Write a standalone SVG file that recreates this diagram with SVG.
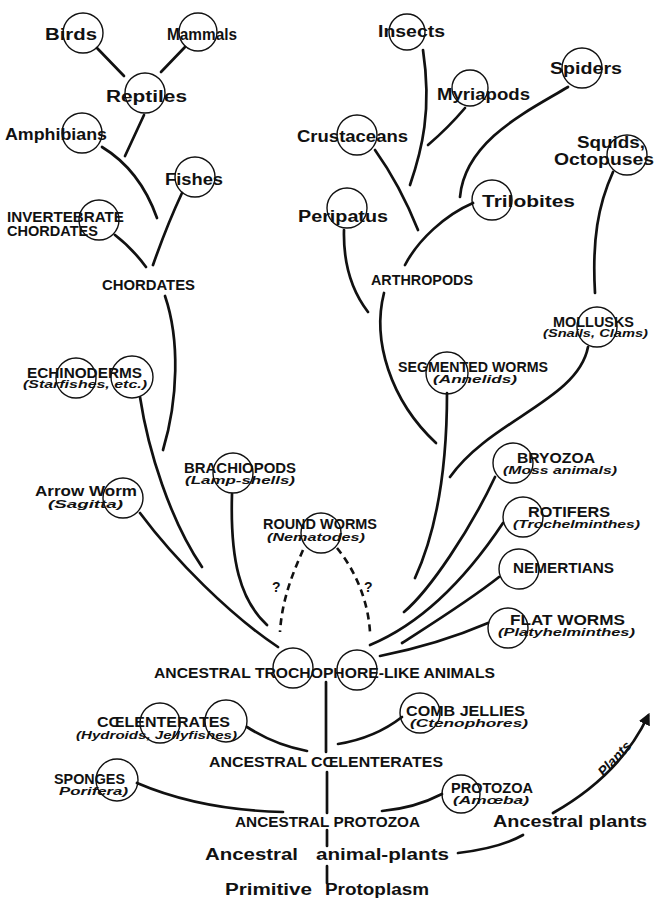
<svg xmlns="http://www.w3.org/2000/svg" width="659" height="899" viewBox="0 0 659 899">
<defs>
<style>
.c{fill:none;stroke:#111;stroke-width:1.4}
.l{fill:none;stroke:#111;stroke-width:2.7;stroke-linecap:round}
.d{fill:none;stroke:#111;stroke-width:2.6;stroke-dasharray:7 5}
text{font-family:"Liberation Sans",Arial,sans-serif;font-weight:bold;fill:#111}
.t16{font-size:16px}
.t15{font-size:15px}
.t14{font-size:14px}
.s{font-size:10.5px;font-style:italic}
</style>
<marker id="ah" viewBox="0 0 10 10" refX="7" refY="5" markerWidth="4.5" markerHeight="4.5" orient="auto" markerUnits="strokeWidth">
<path d="M0,0 L10,5 L0,10 z" fill="#111"/>
</marker>
</defs>
<rect width="659" height="899" fill="#fff"/>

<g id="connectors">
<path class="l" d="M97,48 L124,76"/>
<path class="l" d="M185,47 L161,72"/>
<path class="l" d="M144,115 L125,156"/>
<path class="l" d="M102,147 Q140,170 157,218"/>
<path class="l" d="M182,193 Q167,225 153,265"/>
<path class="l" d="M115,235 Q132,248 146,267"/>
<path class="l" d="M165,296 C180,340 178,400 163,450"/>
<path class="l" d="M140,397 C148,450 170,520 202,567"/>
<path class="l" d="M140,513 C175,560 230,615 278,647"/>
<path class="l" d="M232,494 C230,560 240,600 267,625"/>
<path class="d" d="M303,550 C292,575 282,600 280,632"/>
<path class="d" d="M337,548 C355,570 368,600 370,632"/>
<path class="l" d="M423,50 C432,110 422,150 410,185"/>
<path class="l" d="M465,108 Q448,128 428,145"/>
<path class="l" d="M568,87 C530,110 465,140 460,197"/>
<path class="l" d="M375,150 Q400,185 418,230"/>
<path class="l" d="M473,203 C445,215 418,240 405,265"/>
<path class="l" d="M344,230 C343,270 355,295 368,312"/>
<path class="l" d="M384,293 C372,340 390,400 436,443"/>
<path class="l" d="M613,172 C598,205 592,240 595,293"/>
<path class="l" d="M588,347 C578,400 490,420 450,477"/>
<path class="l" d="M447,393 C447,470 437,530 415,578"/>
<path class="l" d="M495,477 C470,530 430,590 404,612"/>
<path class="l" d="M503,523 C475,565 430,620 370,645"/>
<path class="l" d="M499,577 C470,600 430,625 402,643"/>
<path class="l" d="M488,623 C460,635 420,648 380,656"/>
<path class="l" d="M326,682 L326,752"/>
<path class="l" d="M247,727 Q275,745 307,751"/>
<path class="l" d="M402,717 Q375,738 338,744"/>
<path class="l" d="M327,772 L327,813"/>
<path class="l" d="M137,783 Q200,810 283,812"/>
<path class="l" d="M442,794 Q415,808 382,811"/>
<path class="l" d="M327,830 L327,846"/>
<path class="l" d="M327,866 L327,883"/>
<path class="l" d="M458,853 Q500,848 523,835"/>
<path class="l" d="M553,813 Q620,775 648,716" marker-end="url(#ah)"/>
</g>

<g id="birds"><circle class="c" cx="83" cy="33" r="20"/><text class="t16" x="45" y="40" textLength="52" lengthAdjust="spacingAndGlyphs">Birds</text></g>
<g id="mammals"><circle class="c" cx="198" cy="32" r="19"/><text class="t16" x="167" y="40" textLength="70" lengthAdjust="spacingAndGlyphs">Mammals</text></g>
<g id="reptiles"><circle class="c" cx="145" cy="93" r="20"/><text class="t16" x="106" y="102" textLength="81" lengthAdjust="spacingAndGlyphs">Reptiles</text></g>
<g id="amphibians"><circle class="c" cx="82" cy="133" r="20"/><text class="t16" x="5" y="140" textLength="102" lengthAdjust="spacingAndGlyphs">Amphibians</text></g>
<g id="fishes"><circle class="c" cx="195" cy="177" r="20"/><text class="t16" x="165" y="185" textLength="58" lengthAdjust="spacingAndGlyphs">Fishes</text></g>
<g id="invertebrate-chordates"><circle class="c" cx="99" cy="220" r="20"/><text class="t15" x="7" y="222" textLength="117" lengthAdjust="spacingAndGlyphs">INVERTEBRATE</text><text class="t15" x="7" y="236" textLength="91" lengthAdjust="spacingAndGlyphs">CHORDATES</text></g>
<g id="chordates"><text class="t15" x="102" y="290" textLength="93" lengthAdjust="spacingAndGlyphs">CHORDATES</text></g>

<g id="insects"><circle class="c" cx="407" cy="32" r="18"/><text class="t16" x="378" y="37" textLength="67" lengthAdjust="spacingAndGlyphs">Insects</text></g>
<g id="myriapods"><circle class="c" cx="470" cy="88" r="18"/><text class="t16" x="437" y="100" textLength="93" lengthAdjust="spacingAndGlyphs">Myriapods</text></g>
<g id="spiders"><circle class="c" cx="582" cy="68" r="20"/><text class="t16" x="550" y="74" textLength="72" lengthAdjust="spacingAndGlyphs">Spiders</text></g>
<g id="crustaceans"><circle class="c" cx="357" cy="135" r="20"/><text class="t16" x="297" y="142" textLength="111" lengthAdjust="spacingAndGlyphs">Crustaceans</text></g>
<g id="trilobites"><circle class="c" cx="492" cy="200" r="20"/><text class="t16" x="482" y="207" textLength="93" lengthAdjust="spacingAndGlyphs">Trilobites</text></g>
<g id="squids"><circle class="c" cx="627" cy="155" r="20"/><text class="t16" x="577" y="148" textLength="68" lengthAdjust="spacingAndGlyphs">Squids,</text><text class="t16" x="554" y="165" textLength="100" lengthAdjust="spacingAndGlyphs">Octopuses</text></g>
<g id="peripatus"><circle class="c" cx="347" cy="208" r="20"/><text class="t16" x="298" y="222" textLength="90" lengthAdjust="spacingAndGlyphs">Peripatus</text></g>
<g id="arthropods"><text class="t15" x="371" y="285" textLength="102" lengthAdjust="spacingAndGlyphs">ARTHROPODS</text></g>

<g id="mollusks"><circle class="c" cx="597" cy="327" r="20"/><text class="t14" x="553" y="327" textLength="81" lengthAdjust="spacingAndGlyphs">MOLLUSKS</text><text class="s" x="543" y="337" textLength="105" lengthAdjust="spacingAndGlyphs">(Snails, Clams)</text></g>
<g id="segmented-worms"><circle class="c" cx="447" cy="373" r="21"/><text class="t14" x="398" y="372" textLength="150" lengthAdjust="spacingAndGlyphs">SEGMENTED WORMS</text><text class="s" x="433" y="383" textLength="84" lengthAdjust="spacingAndGlyphs">(Annelids)</text></g>
<g id="echinoderms"><circle class="c" cx="76" cy="378" r="20"/><circle class="c" cx="132" cy="377" r="21"/><text class="t14" x="27" y="378" textLength="115" lengthAdjust="spacingAndGlyphs">ECHINODERMS</text><text class="s" x="23" y="388" textLength="124" lengthAdjust="spacingAndGlyphs">(Starfishes, etc.)</text></g>
<g id="brachiopods"><circle class="c" cx="233" cy="473" r="20"/><text class="t14" x="184" y="473" textLength="112" lengthAdjust="spacingAndGlyphs">BRACHIOPODS</text><text class="s" x="185" y="484" textLength="110" lengthAdjust="spacingAndGlyphs">(Lamp-shells)</text></g>
<g id="arrow-worm"><circle class="c" cx="123" cy="498" r="20"/><text class="t15" x="35" y="496" textLength="102" lengthAdjust="spacingAndGlyphs">Arrow Worm</text><text class="s" x="48" y="508" textLength="75" lengthAdjust="spacingAndGlyphs">(Sagitta)</text></g>
<g id="bryozoa"><circle class="c" cx="513" cy="463" r="20"/><text class="t14" x="517" y="463" textLength="78" lengthAdjust="spacingAndGlyphs">BRYOZOA</text><text class="s" x="503" y="474" textLength="114" lengthAdjust="spacingAndGlyphs">(Moss animals)</text></g>
<g id="rotifers"><circle class="c" cx="523" cy="517" r="20"/><text class="t14" x="528" y="517" textLength="82" lengthAdjust="spacingAndGlyphs">ROTIFERS</text><text class="s" x="513" y="528" textLength="127" lengthAdjust="spacingAndGlyphs">(Trochelminthes)</text></g>
<g id="round-worms"><circle class="c" cx="321" cy="533" r="20"/><text class="t14" x="263" y="529" textLength="114" lengthAdjust="spacingAndGlyphs">ROUND WORMS</text><text class="s" x="267" y="541" textLength="98" lengthAdjust="spacingAndGlyphs">(Nematodes)</text><text class="t14" x="272" y="592">?</text><text class="t14" x="364" y="592">?</text></g>
<g id="nemertians"><circle class="c" cx="519" cy="569" r="20"/><text class="t14" x="513" y="573" textLength="101" lengthAdjust="spacingAndGlyphs">NEMERTIANS</text></g>
<g id="flat-worms"><circle class="c" cx="508" cy="628" r="20"/><text class="t14" x="510" y="625" textLength="115" lengthAdjust="spacingAndGlyphs">FLAT WORMS</text><text class="s" x="498" y="636" textLength="137" lengthAdjust="spacingAndGlyphs">(Platyhelminthes)</text></g>
<g id="trochophore"><circle class="c" cx="293" cy="668" r="20"/><circle class="c" cx="357" cy="670" r="20"/><text class="t15" x="154" y="678" textLength="341" lengthAdjust="spacingAndGlyphs">ANCESTRAL TROCHOPHORE-LIKE ANIMALS</text></g>
<g id="coelenterates"><circle class="c" cx="160" cy="723" r="20"/><circle class="c" cx="226" cy="721" r="21"/><text class="t14" x="97" y="727" textLength="133" lengthAdjust="spacingAndGlyphs">CŒLENTERATES</text><text class="s" x="76" y="739" textLength="161" lengthAdjust="spacingAndGlyphs">(Hydroids, Jellyfishes)</text></g>
<g id="comb-jellies"><circle class="c" cx="420" cy="713" r="20"/><text class="t14" x="406" y="716" textLength="119" lengthAdjust="spacingAndGlyphs">COMB JELLIES</text><text class="s" x="410" y="727" textLength="118" lengthAdjust="spacingAndGlyphs">(Ctenophores)</text></g>
<g id="ancestral-coelenterates"><text class="t15" x="209" y="767" textLength="234" lengthAdjust="spacingAndGlyphs">ANCESTRAL CŒLENTERATES</text></g>
<g id="sponges"><circle class="c" cx="117" cy="780" r="21"/><text class="t14" x="54" y="784" textLength="71" lengthAdjust="spacingAndGlyphs">SPONGES</text><text class="s" x="59" y="795" textLength="69" lengthAdjust="spacingAndGlyphs">Porifera)</text></g>
<g id="protozoa"><circle class="c" cx="461" cy="794" r="19"/><text class="t14" x="451" y="793" textLength="82" lengthAdjust="spacingAndGlyphs">PROTOZOA</text><text class="s" x="453" y="804" textLength="76" lengthAdjust="spacingAndGlyphs">(Amœba)</text></g>
<g id="ancestral-protozoa"><text class="t15" x="235" y="827" textLength="185" lengthAdjust="spacingAndGlyphs">ANCESTRAL PROTOZOA</text></g>
<g id="ancestral-plants"><text class="t16" x="493" y="827" textLength="154" lengthAdjust="spacingAndGlyphs">Ancestral plants</text><text class="t14" style="font-style:italic" transform="translate(618,762) rotate(-47)" text-anchor="middle">Plants</text></g>
<g id="animal-plants"><text class="t16" x="205" y="860" textLength="93" lengthAdjust="spacingAndGlyphs">Ancestral</text><text class="t16" x="316" y="860" textLength="133" lengthAdjust="spacingAndGlyphs">animal-plants</text></g>
<g id="protoplasm"><text class="t16" x="225" y="895" textLength="87" lengthAdjust="spacingAndGlyphs">Primitive</text><text class="t16" x="325" y="895" textLength="104" lengthAdjust="spacingAndGlyphs">Protoplasm</text></g>
</svg>
